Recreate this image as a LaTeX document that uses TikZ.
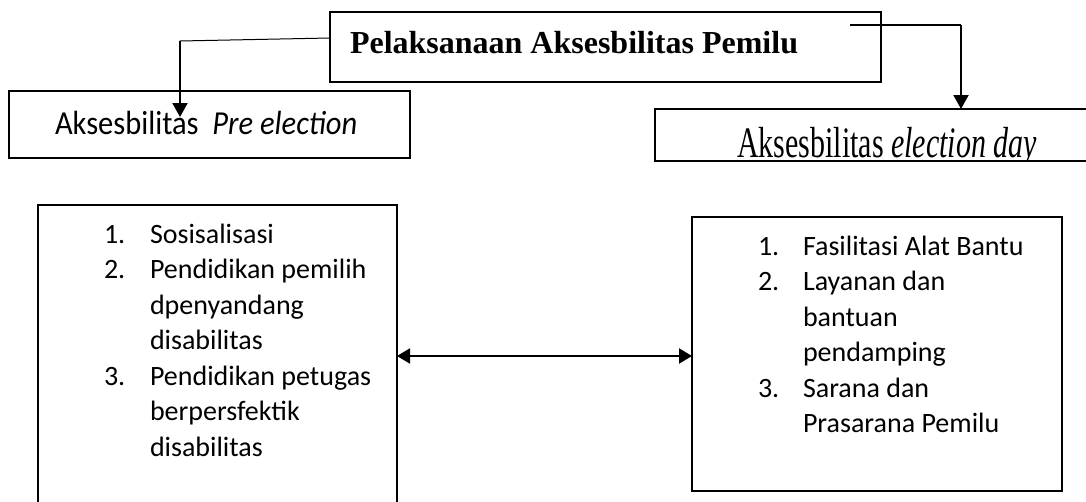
\documentclass[tikz,border=0pt]{standalone}
\usepackage{fontspec}
\setmainfont{Liberation Serif}
\newfontfamily\calfont{Carlito}
\usetikzlibrary{arrows.meta}
\tikzset{
  boxnode/.style={draw, line width=1.5pt, rectangle, anchor=north west, inner sep=0pt, outer sep=0pt},
  arr/.style={line width=2pt, -{Triangle[length=14pt,width=15pt]}},
  darr/.style={line width=2pt, {Triangle[length=13pt,width=15pt]}-{Triangle[length=13pt,width=15pt]}},
  txt/.style={inner sep=0pt, outer sep=0pt, anchor=base west},
  listtxt/.style={txt, font=\calfont\fontsize{28}{34}\selectfont}
}
\begin{document}
\begin{tikzpicture}[x=1pt, y=-1pt]
\useasboundingbox (0,0) rectangle (1086,501);
\clip (0,0) rectangle (1086,501);
\fill[white] (0,0) rectangle (1086,501);

% boxes
\node[boxnode, minimum width=551pt, minimum height=70pt] (top) at (330,12) {};
\node[boxnode, minimum width=401pt, minimum height=67pt] (pre) at (9,91) {};
\node[boxnode, minimum width=500pt, minimum height=52pt] (eday) at (655,109) {};
\node[boxnode, minimum width=359pt, minimum height=330pt] (lb) at (38,205) {};
\node[boxnode, minimum width=370pt, minimum height=274pt] (rb) at (692,217) {};

% texts
\node[txt] (toptext) at (350,53) {\fontsize{32}{36}\selectfont\bfseries Pelaksanaan Aksesbilitas Pemilu};
\node[txt] (pretext) at (55,134) {\scalebox{1}[1.1]{\calfont\fontsize{30.5}{36}\selectfont Aksesbilitas\ \ \itshape Pre election}};
\begin{scope}
\clip (eday.north west) rectangle (eday.south east);
\node[txt] (edaytext) at (737,157) {\scalebox{1}[1.45]{\fontsize{30}{36}\selectfont Aksesbilitas \itshape election day}};
\end{scope}

% left list
\foreach \num/\tx [count=\i from 0] in {1./Sosisalisasi, 2./Pendidikan pemilih, /dpenyandang, /disabilitas, 3./Pendidikan petugas, /berpersfektik, /disabilitas}{
  \node[listtxt] (lbn\i) at (104,243+35.5*\i) {\num};
  \node[listtxt] (lbt\i) at (150,243+35.5*\i) {\tx};
}
% right list
\foreach \num/\tx [count=\i from 0] in {1./Fasilitasi Alat Bantu, 2./Layanan dan, /bantuan, /pendamping, 3./Sarana dan, /Prasarana Pemilu}{
  \node[listtxt] (rbn\i) at (758,255+35.5*\i) {\num};
  \node[listtxt] (rbt\i) at (803,255+35.5*\i) {\tx};
}

% connectors
\coordinate (ls) at (330,38);
\coordinate (lk) at (180,41);
\coordinate (lt) at (180,117);
\draw[line width=1pt] (ls) -- (lk);
\draw[arr] (lk) -- (lt);

\coordinate (rs) at (850,25);
\coordinate (rk) at (961,25);
\draw[line width=2pt] (rs) -- (rk);
\draw[arr] (rk) -- (rk |- eday.north);

\draw[darr] (lb.east |- 0,356) -- (rb.west |- 0,356);
\end{tikzpicture}
\end{document}
